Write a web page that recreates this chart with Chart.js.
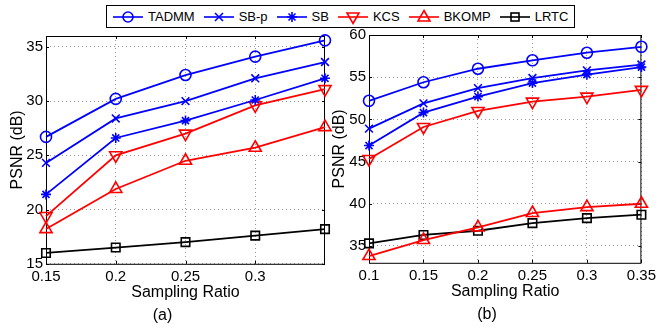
<!DOCTYPE html>
<html>
<head>
<meta charset="utf-8">
<script src="https://cdn.jsdelivr.net/npm/chart.js@4.4.0/dist/chart.umd.min.js"></script>
<style>
body { margin: 0; background: #fff; width: 660px; height: 327px; position: relative; overflow: hidden; font-family: "Liberation Sans", Arial, sans-serif; }
#chartA { position: absolute; left: 0; top: 0; }
#chartB { position: absolute; left: 330px; top: 0; }
#legend { position: absolute; left: 106px; top: 5px; height: 21px; border: 1px solid #000; background: #fff;
  display: flex; align-items: center; padding: 0 6px; font-size: 13px; gap: 9px; }
.item { display: flex; align-items: center; gap: 5px; }
.item svg { display: block; }
</style>
</head>
<body>
<canvas id="chartA" width="335" height="327"></canvas>
<canvas id="chartB" width="330" height="327"></canvas>
<div id="legend"></div>
<script>
// series names / look
var names = ["TADMM", "SB-p", "SB", "KCS", "BKOMP", "LRTC"];
var colors = ["#0000ff", "#0000ff", "#0000ff", "#ff0000", "#ff0000", "#000000"];
var markers = ["circle", "crossRot", "star", "triangleDown", "triangle", "rect"];

// (a)
var ratiosA = [0.15, 0.2, 0.25, 0.3, 0.35];
var tadmmA = [26.7, 30.2, 32.4, 34.1, 35.6];
var sbpA = [24.3, 28.4, 30.0, 32.1, 33.6];
var sbA = [21.4, 26.6, 28.2, 30.1, 32.1];
var kcsA = [19.4, 25.0, 27.0, 29.6, 31.1];
var bkompA = [18.2, 21.9, 24.5, 25.7, 27.6];
var lrtcA = [16.0, 16.5, 17.0, 17.6, 18.2];
var xTicksA = [0.15, 0.2, 0.25, 0.3];
var yTicksA = [15, 20, 25, 30, 35];

// (b)
var ratiosB = [0.1, 0.15, 0.2, 0.25, 0.3, 0.35];
var tadmmB = [52.2, 54.4, 56.0, 57.0, 57.9, 58.6];
var sbpB = [48.9, 51.9, 53.7, 54.9, 55.8, 56.5];
var sbB = [46.9, 50.8, 52.7, 54.3, 55.3, 56.2];
var kcsB = [45.3, 49.1, 51.0, 52.1, 52.7, 53.5];
var bkompB = [33.8, 35.7, 37.2, 38.9, 39.6, 40.0];
var lrtcB = [35.3, 36.3, 36.8, 37.7, 38.3, 38.7];
var xTicksB = [0.1, 0.15, 0.2, 0.25, 0.3, 0.35];
var yTicksB = [35, 40, 45, 50, 55, 60];

Chart.defaults.font.family = '"Liberation Sans", Arial, sans-serif';
Chart.defaults.color = '#000';

var radii = { circle: 5.5, crossRot: 5.5, star: 5, triangleDown: 7, triangle: 7, rect: 6 };

function makeSets(xs, series) {
    return series.map(function (vals, i) {
        var m = markers[i];
        return {
            label: names[i],
            data: vals.map(function (v, j) { return { x: xs[j], y: v }; }),
            borderColor: colors[i],
            backgroundColor: 'rgba(0,0,0,0)',
            borderWidth: 1.8,
            pointStyle: m === 'triangleDown' ? 'triangle' : m,
            rotation: m === 'triangleDown' ? 180 : 0,
            pointRadius: radii[m],
            pointBorderWidth: 1.6,
            pointBackgroundColor: 'rgba(0,0,0,0)',
            pointBorderColor: colors[i],
            tension: 0,
            clip: false
        };
    });
}

// black box with inside tick marks, like matlab
var frame = {
    id: 'frame',
    beforeDatasetsDraw: function (chart) {
        var a = chart.chartArea, ctx = chart.ctx;
        var xs = chart.scales.x, ys = chart.scales.y;
        ctx.save();
        ctx.strokeStyle = '#000';
        ctx.lineWidth = 1;
        ctx.strokeRect(a.left + 0.5, a.top + 0.5, a.right - a.left - 1, a.bottom - a.top);
        ctx.beginPath();
        xs.ticks.forEach(function (t) {
            var px = Math.round(xs.getPixelForValue(t.value)) + 0.5;
            ctx.moveTo(px, a.bottom); ctx.lineTo(px, a.bottom - 3);
            ctx.moveTo(px, a.top); ctx.lineTo(px, a.top + 3);
        });
        ys.ticks.forEach(function (t) {
            var py = Math.round(ys.getPixelForValue(t.value)) + 0.5;
            ctx.moveTo(a.left, py); ctx.lineTo(a.left + 3, py);
            ctx.moveTo(a.right, py); ctx.lineTo(a.right - 3, py);
        });
        ctx.stroke();
        ctx.restore();
    }
};

function fmt(v) { return String(+Number(v).toFixed(2)); }

function makeOptions(cfg) {
    return {
        responsive: false,
        animation: false,
        layout: { padding: { top: cfg.top, right: cfg.right, left: 0, bottom: cfg.bottom } },
        plugins: {
            legend: { display: false },
            tooltip: { enabled: false },
            subtitle: {
                display: true, position: 'bottom', text: cfg.sub, color: '#000',
                font: { size: 16 }, padding: { top: 4, bottom: 0 }
            }
        },
        scales: {
            x: {
                type: 'linear', min: cfg.xmin, max: cfg.xmax,
                afterBuildTicks: function (s) { s.ticks = cfg.xticks.map(function (v) { return { value: v }; }); },
                afterFit: function (s) { s.height = 38; },
                ticks: { font: { size: 15 }, color: '#000', padding: 4, maxRotation: 0, callback: fmt },
                grid: { color: '#999', drawTicks: false, borderDash: [1, 3] },
                border: { display: false, dash: [1, 3] },
                title: { display: true, text: 'Sampling Ratio', color: '#000', font: { size: 16 }, padding: 0 }
            },
            y: {
                min: cfg.ymin, max: cfg.ymax,
                afterBuildTicks: function (s) { s.ticks = cfg.yticks.map(function (v) { return { value: v }; }); },
                afterFit: function (s) { s.width = cfg.yw; },
                ticks: { font: { size: 15 }, color: '#000', padding: 3 },
                grid: { color: '#999', drawTicks: false, borderDash: [1, 3] },
                border: { display: false, dash: [1, 3] },
                title: { display: true, text: 'PSNR (dB)', color: '#000', font: { size: 16 }, padding: { top: cfg.ytp, bottom: 0 } }
            }
        }
    };
}

new Chart(document.getElementById('chartA'), {
    type: 'line',
    data: { datasets: makeSets(ratiosA, [tadmmA, sbpA, sbA, kcsA, bkompA, lrtcA]) },
    options: makeOptions({ top: 36, right: 10, bottom: 2, sub: '(a)', xmin: 0.15, xmax: 0.35, xticks: xTicksA,
        ymin: 15, ymax: 36, yticks: yTicksA, yw: 46, ytp: 8 }),
    plugins: [frame]
});

new Chart(document.getElementById('chartB'), {
    type: 'line',
    data: { datasets: makeSets(ratiosB, [tadmmB, sbpB, sbB, kcsB, bkompB, lrtcB]) },
    options: makeOptions({ top: 35, right: 16, bottom: 3, sub: '(b)', xmin: 0.1, xmax: 0.35, xticks: xTicksB,
        ymin: 33, ymax: 60, yticks: yTicksB, yw: 39, ytp: 0 }),
    plugins: [frame]
});

// shared legend
function markerSvg(m, c) {
    var s = '';
    if (m === 'circle') s = '<circle cx="15" cy="10" r="5" fill="none"/>';
    else if (m === 'crossRot') s = '<path d="M11 6L19 14M19 6L11 14"/>';
    else if (m === 'star') s = '<path d="M15 5V15M10 10H20M11.5 6.5L18.5 13.5M18.5 6.5L11.5 13.5"/>';
    else if (m === 'triangle') s = '<polygon points="15,3.5 21,14 9,14" fill="none"/>';
    else if (m === 'triangleDown') s = '<polygon points="15,16.5 21,6 9,6" fill="none"/>';
    else if (m === 'rect') s = '<rect x="11" y="6" width="8" height="8" fill="none"/>';
    return '<svg width="30" height="20" stroke="' + c + '" stroke-width="1.6">' +
        '<line x1="0" y1="10" x2="30" y2="10"/>' + s + '</svg>';
}
var legend = document.getElementById('legend');
names.forEach(function (n, i) {
    var d = document.createElement('div');
    d.className = 'item';
    d.innerHTML = markerSvg(markers[i], colors[i]) + '<span>' + n + '</span>';
    legend.appendChild(d);
});
</script>
</body>
</html>
